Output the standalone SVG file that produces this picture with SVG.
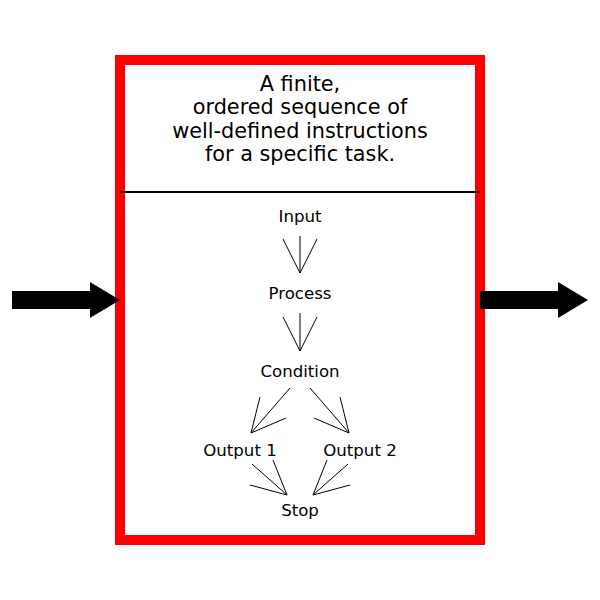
<svg xmlns="http://www.w3.org/2000/svg" width="600" height="600" viewBox="0 0 600 600">
<style>
.lbl{font-family:"DejaVu Sans",sans-serif;font-size:16.6px;fill:#000;text-anchor:middle}
.title{font-family:"DejaVu Sans",sans-serif;font-size:20.8px;fill:#000;text-anchor:middle}
.c{stroke:#000;stroke-width:1;fill:none}
</style>
<rect width="600" height="600" fill="#fff"/>
<g id="frame">
<rect x="120" y="60" width="360" height="480" fill="#fff" stroke="#f00" stroke-width="10"/>
<line x1="120" y1="192" x2="480" y2="192" stroke="#000" stroke-width="2"/>
</g>
<g id="title">
<text class="title" x="300" y="91">A finite,</text>
<text class="title" x="300" y="114">ordered sequence of</text>
<text class="title" x="300" y="138">well-defined instructions</text>
<text class="title" x="300" y="161">for a specific task.</text>
</g>
<g id="arrow-in"><polygon points="12,291 90,291 90,282 120,300 90,318 90,309 12,309" fill="#000"/></g>
<g id="arrow-out"><polygon points="480,291 558,291 558,282 588,300 558,318 558,309 480,309" fill="#000"/></g>
<g id="node-input"><text class="lbl" x="300" y="222">Input</text></g>
<g id="node-process"><text class="lbl" x="300" y="299">Process</text></g>
<g id="node-condition"><text class="lbl" x="300" y="377">Condition</text></g>
<g id="node-output1"><text class="lbl" x="240" y="456">Output 1</text></g>
<g id="node-output2"><text class="lbl" x="360" y="456">Output 2</text></g>
<g id="node-stop"><text class="lbl" x="300" y="516">Stop</text></g>
<g id="connectors">
<path class="c" d="M300,236 L300,273 M283,239 L300,273 L317,239"/>
<path class="c" d="M300,313 L300,351 M283,317 L300,351 L317,317"/>
<path class="c" d="M290,388 L251,433 M260,397 L251,433 L286,418"/>
<path class="c" d="M310,388 L349,433 M340,397 L349,433 L314,418"/>
<path class="c" d="M252,464 L287,495 M273,460 L287,495 L250,485"/>
<path class="c" d="M348,464 L313,495 M327,460 L313,495 L350,485"/>
</g>
</svg>
